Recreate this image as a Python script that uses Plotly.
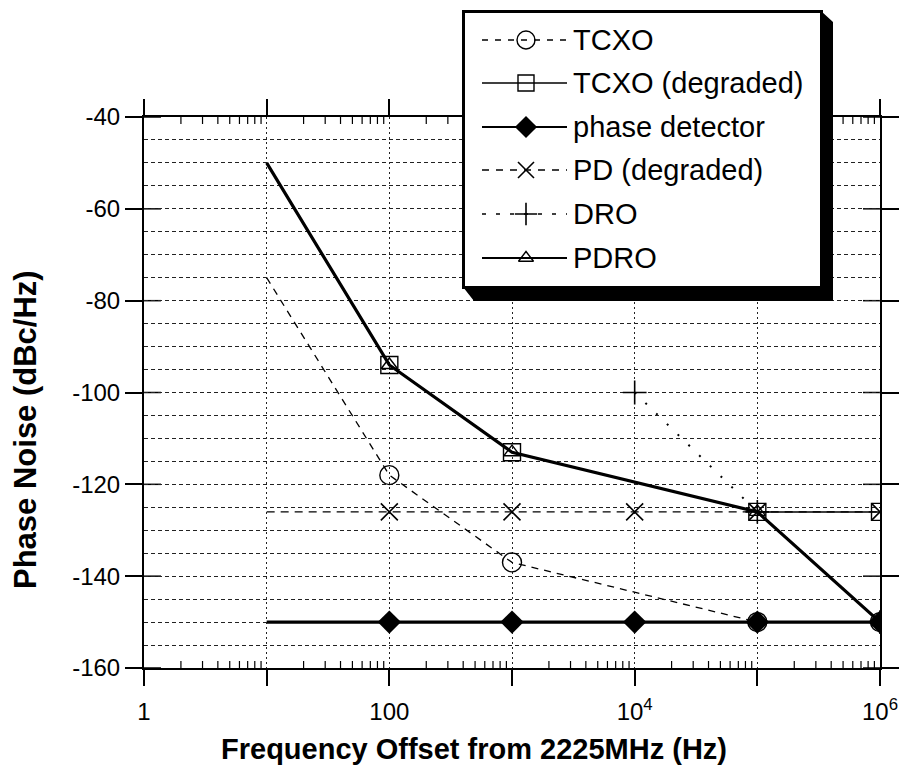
import math
import plotly.graph_objects as go

# ---- data: phase noise (dBc/Hz) versus offset frequency (Hz) ----
tcxo_f = [10, 100, 1000, 1e5, 1e6]
tcxo_pn = [-75, -118, -137, -150, -150]

tcxo_deg_f = [10, 100, 1000, 1e5, 1e6]
tcxo_deg_pn = [-50, -94, -113, -126, -126]

pd_f = [10, 100, 1000, 1e4, 1e5, 1e6]
pd_pn = [-150, -150, -150, -150, -150, -150]

pd_deg_f = [10, 100, 1000, 1e4, 1e5, 1e6]
pd_deg_pn = [-126, -126, -126, -126, -126, -126]

dro_f = [1e4, 1e5, 1e6]
dro_pn = [-100, -126, -150]

pdro_f = [10, 100, 1000, 1e5, 1e6]
pdro_pn = [-50, -94, -113, -126, -150]

series_names = ["TCXO", "TCXO (degraded)", "phase detector",
                "PD (degraded)", "DRO", "PDRO"]

x_tick_vals = [1, 10, 100, 1e3, 1e4, 1e5, 1e6]
x_tick_text = ["1", "", "100", "", "10<sup>4</sup>", "", "10<sup>6</sup>"]
y_tick_vals = [-160, -140, -120, -100, -80, -60, -40]
y_tick_text = ["-160", "-140", "-120", "-100", "-80", "-60", "-40"]
X_DECADES = (0, 6)                           # log10 of the x range

# ---- page geometry (pixels) ----
W, H = 903, 773
PL, PR, PT, PB = 144, 880, 117, 668          # plot frame
PW, PH = PR - PL, PB - PT
PAPER_H = PB                                 # paper spans page top .. frame bottom


def px_x(p):
    return (p - PL) / PW


def px_y(p):
    return (PAPER_H - p) / PAPER_H


FONT = "Liberation Sans"

# ---- per-series styles ----
styles = [
    dict(dash="7px,6px", width=1.3, symbol="circle-open", size=19, mlw=1.4),
    dict(dash="solid", width=1.5, symbol="square-open", size=17, mlw=1.4),
    dict(dash="solid", width=3.2, symbol="diamond", size=18, mlw=0),
    dict(dash="8px,6px", width=1.3, symbol="x-thin-open", size=17, mlw=1.6),
    dict(dash="2px,13px", width=2, symbol="cross-thin-open", size=17, mlw=1.6),
    dict(dash="solid", width=3.2, symbol="triangle-up-open", size=14, mlw=1.4),
]
series_data = [
    (tcxo_f, tcxo_pn),
    (tcxo_deg_f, tcxo_deg_pn),
    (pd_f, pd_pn),
    (pd_deg_f, pd_deg_pn),
    (dro_f, dro_pn),
    (pdro_f, pdro_pn),
]

fig = go.Figure()

for name, (fx, fy), st in zip(series_names, series_data, styles):
    # no symbol is drawn at the 10 Hz starting point
    sizes = [0 if f == 10 else st["size"] for f in fx]
    fig.add_trace(go.Scatter(
        x=fx, y=fy, name=name, mode="lines+markers",
        line=dict(color="black", width=st["width"], dash=st["dash"]),
        marker=dict(symbol=st["symbol"], size=sizes, color="black", opacity=1,
                    line=dict(color="black", width=st["mlw"])),
        showlegend=False, hoverinfo="skip",
    ))

# ---- boxed key with drop shadow, drawn on its own pixel-scaled axes ----
KX0, KX1, KY0, KY1 = 455, 845, 3, 308
key_rows = [40, 83, 127, 170, 214, 258]
key_line_w = [1.3, 1.5, 2.2, 1.3, 1.6, 1.8]
key_dash = ["6px,7px", "solid", "solid", "7px,7px", "4px,10px", "solid"]
for name, row, st, lw, dsh in zip(series_names, key_rows, styles, key_line_w, key_dash):
    fig.add_trace(go.Scatter(
        x=[482, 526, 567], y=[row, row, row], mode="lines+markers",
        line=dict(color="black", width=lw, dash=dsh),
        marker=dict(symbol=st["symbol"], size=[0, st["size"] - 1, 0],
                    color="black", opacity=1,
                    line=dict(color="black", width=st["mlw"])),
        xaxis="x5", yaxis="y5", showlegend=False, hoverinfo="skip",
    ))

shapes = []

# log minor ticks (2..9 per decade), pointing into the frame at bottom and top;
# placed as fractions of the x-axis domain
minor_x = [m * 10 ** d for d in range(6) for m in range(2, 10)]
MINOR_LEN = 7 / PH
for v in minor_x:
    fx = (math.log10(v) - X_DECADES[0]) / (X_DECADES[1] - X_DECADES[0])
    for y0, y1 in [(0, MINOR_LEN), (1 - MINOR_LEN, 1)]:
        shapes.append(dict(type="line", xref="x domain", yref="y domain",
                           layer="below", x0=fx, x1=fx, y0=y0, y1=y1,
                           line=dict(color="black", width=1.2)))

# inner half of the major y ticks, on both sides of the frame
MAJ_IN = 17 / PW
for v in y_tick_vals:
    for x0, x1 in [(0, MAJ_IN), (1 - MAJ_IN, 1)]:
        shapes.append(dict(type="line", xref="x domain", yref="y", layer="below",
                           x0=x0, x1=x1, y0=v, y1=v,
                           line=dict(color="black", width=1.5)))

# key frame with its drop shadow
shapes += [
    dict(type="path", xref="x5", yref="y5", layer="below",
         path="M 821,11 L 833,22 L 833,301 L 474,301 L 463,287 L 821,287 Z",
         fillcolor="black", line=dict(width=0)),
    dict(type="rect", xref="x5", yref="y5", layer="below",
         x0=463.5, y0=11.5, x1=821.5, y1=287.5,
         fillcolor="white", line=dict(color="black", width=3)),
]

annotations = []
for name, row in zip(series_names, key_rows):
    annotations.append(dict(
        x=571, y=row, xref="x5", yref="y5", text=name, showarrow=False,
        xanchor="left", yanchor="middle",
        font=dict(family=FONT, size=29, color="black"),
    ))

annotations.append(dict(
    x=px_x(25), y=px_y(430), xref="paper", yref="paper",
    text="<b>Phase Noise (dBc/Hz)</b>", textangle=-90, showarrow=False,
    xanchor="center", yanchor="middle",
    font=dict(family=FONT, size=31, color="black"),
))
annotations.append(dict(
    x=px_x(474), y=px_y(749), xref="paper", yref="paper",
    text="<b>Frequency Offset from 2225MHz (Hz)</b>", showarrow=False,
    xanchor="center", yanchor="middle",
    font=dict(family=FONT, size=29, color="black"),
))

y_dom = [0, px_y(PT)]
tickfont = dict(family=FONT, size=24, color="black")

fig.update_layout(
    template="none",
    width=W, height=H, autosize=False,
    margin=dict(l=PL, r=W - PR, t=0, b=H - PB, pad=0, autoexpand=False),
    paper_bgcolor="white", plot_bgcolor="rgba(0,0,0,0)",
    font=dict(family=FONT, color="black"),
    showlegend=False,
    xaxis=dict(
        type="log", range=list(X_DECADES), domain=[0, 1], anchor="y",
        automargin=False,
        tickvals=x_tick_vals, ticktext=x_tick_text,
        ticks="outside", ticklen=16, tickwidth=1.5, tickcolor="black",
        mirror="ticks", showline=True, linewidth=2, linecolor="black",
        showgrid=True, gridcolor="#222", gridwidth=1, griddash="2px,3px",
        zeroline=False, tickfont=tickfont, ticklabelstandoff=5,
    ),
    yaxis=dict(
        range=[-160, -40], domain=y_dom, anchor="x", automargin=False,
        tickvals=y_tick_vals, ticktext=y_tick_text,
        ticks="outside", ticklen=17, tickwidth=1.5, tickcolor="black",
        mirror="ticks", showline=True, linewidth=2, linecolor="black",
        showgrid=True, gridcolor="#222", gridwidth=1, griddash="4px,3px",
        zeroline=False, tickfont=tickfont, ticklabelstandoff=0,
        minor=dict(dtick=5, tick0=-160, showgrid=True, gridcolor="#222",
                   gridwidth=1, griddash="4px,3px", ticks=""),
    ),
    xaxis5=dict(domain=[px_x(KX0), px_x(KX1)], range=[KX0, KX1], anchor="y5",
                visible=False, fixedrange=True, automargin=False),
    yaxis5=dict(domain=[px_y(KY1), px_y(KY0)], range=[KY1, KY0], anchor="x5",
                visible=False, fixedrange=True, automargin=False),
    shapes=shapes,
    annotations=annotations,
)

fig.write_html("out.html")
